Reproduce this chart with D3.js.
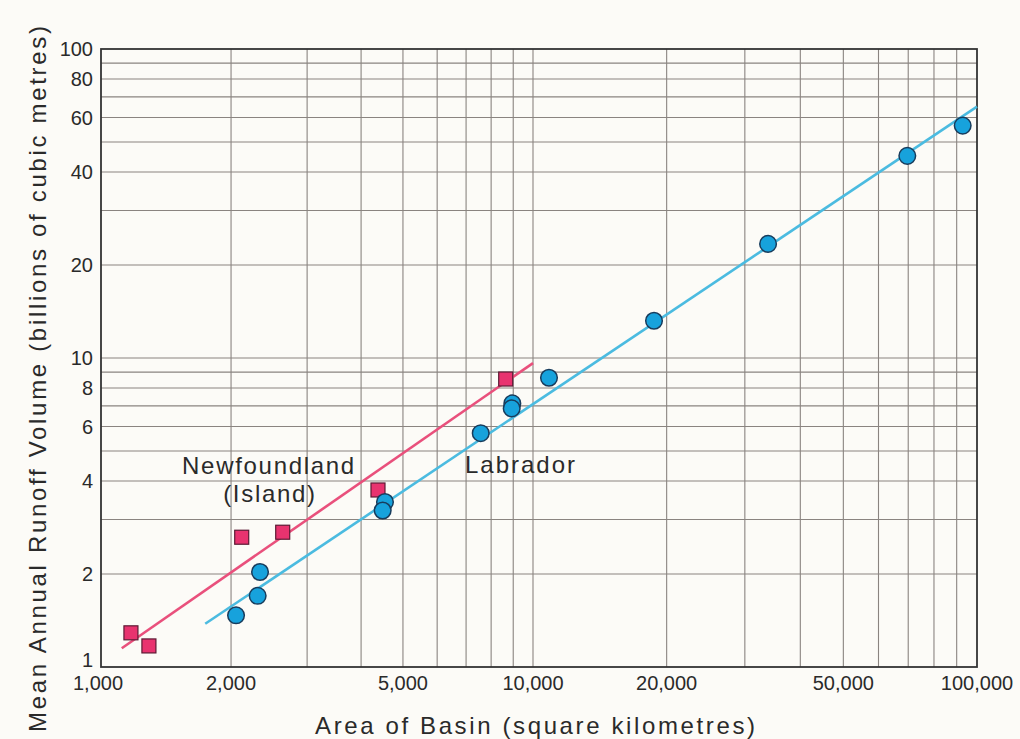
<!DOCTYPE html>
<html>
<head>
<meta charset="utf-8">
<script src="https://cdn.jsdelivr.net/npm/d3@7"></script>
<style>
  body { margin: 0; background: #fcfbf7; }
  svg { display: block; }
  text { font-family: "Liberation Sans", Arial, sans-serif; fill: #2a2a2a; }
</style>
</head>
<body>
<svg id="chart"></svg>
<script>
// Newfoundland (Island) basins: area (km2), runoff (billions m3)
var nfldArea = [1173, 1291, 2117, 2634, 4377, 8646];
var nfldRunoff = [1.29, 1.17, 2.63, 2.73, 3.74, 8.55];
// Labrador basins
var labArea = [2054, 2305, 2334, 4543, 4488, 7568, 8957, 8927, 10865, 18730, 33840, 69670, 92850];
var labRunoff = [1.47, 1.70, 2.03, 3.42, 3.21, 5.71, 7.13, 6.87, 8.63, 13.2, 23.4, 45.1, 56.5];
// fitted lines, [area, runoff] end points
var nfldFit = [[1117, 1.15], [10000, 9.63]];
var labFit = [[1743, 1.38], [100000, 65.1]];

var xTickValues = [1000, 2000, 5000, 10000, 20000, 50000, 100000];
var yTickValues = [1, 2, 4, 6, 8, 10, 20, 40, 60, 80, 100];

var config = {
  svgWidth: 1020,
  svgHeight: 739,
  left: 101,
  mid: 533, // the printed paper's 10,000 line sits a bit left of a true log position
  right: 977,
  top: 49,
  bottom: 667,
  gridColor: '#8a8480',
  blueLine: '#4bbbe0',
  blueFill: '#17a2dc',
  blueStroke: '#183c5c',
  pinkLine: '#e9507c',
  pinkFill: '#e8336f',
  pinkStroke: '#5c1a34',
  tickFontSize: 20,
  labelFontSize: 24,
  titleFontSize: 24,
};

var svg = d3.select('#chart')
  .attr('width', config.svgWidth)
  .attr('height', config.svgHeight);

var x = d3.scaleLog().domain([1000, 10000, 100000]).range([config.left, config.mid, config.right]);
var y = d3.scaleLog().domain([1, 100]).range([config.bottom, config.top]);

// minor grid on every 1..9 step of each decade
var xGrid = [];
for (var d = 1000; d < 100000; d *= 10) {
  for (var k = 2; k <= 9; k += 1) { xGrid.push(d * k); }
}
xGrid.push(10000);
var yGrid = [];
for (var d2 = 1; d2 < 100; d2 *= 10) {
  for (var k2 = 2; k2 <= 9; k2 += 1) { yGrid.push(d2 * k2); }
}
yGrid.push(10);

var g = svg.append('g');
g.selectAll('.vgrid').data(xGrid).enter().append('line')
  .attr('x1', function(v) { return x(v); })
  .attr('x2', function(v) { return x(v); })
  .attr('y1', config.top).attr('y2', config.bottom)
  .attr('stroke', config.gridColor).attr('stroke-width', 1.1);
g.selectAll('.hgrid').data(yGrid).enter().append('line')
  .attr('y1', function(v) { return y(v); })
  .attr('y2', function(v) { return y(v); })
  .attr('x1', config.left).attr('x2', config.right)
  .attr('stroke', config.gridColor).attr('stroke-width', 1.1);

// frame
g.append('rect')
  .attr('x', config.left).attr('y', config.top)
  .attr('width', config.right - config.left)
  .attr('height', config.bottom - config.top)
  .attr('fill', 'none').attr('stroke', '#333').attr('stroke-width', 1.8);

// tick labels
var fmt = d3.format(',');
g.selectAll('.xlab').data(xTickValues).enter().append('text')
  .attr('x', function(v) { return x(v) - (v === 1000 ? 3 : 0); })
  .attr('y', 690)
  .attr('text-anchor', 'middle')
  .attr('font-size', config.tickFontSize)
  .text(function(v) { return fmt(v); });
g.selectAll('.ylab').data(yTickValues).enter().append('text')
  .attr('x', 93)
  .attr('y', function(v) { return y(v) + (v === 1 ? -7 : 0); })
  .attr('dy', '0.36em')
  .attr('text-anchor', 'end')
  .attr('font-size', config.tickFontSize)
  .text(function(v) { return v; });

// axis titles
svg.append('text')
  .attr('x', 535).attr('y', 734)
  .attr('text-anchor', 'middle')
  .attr('font-size', config.titleFontSize)
  .attr('textLength', 440).attr('lengthAdjust', 'spacing')
  .text('Area of Basin (square kilometres)');
svg.append('text')
  .attr('transform', 'translate(46,379) rotate(-90)')
  .attr('text-anchor', 'middle')
  .attr('font-size', config.titleFontSize)
  .attr('textLength', 706).attr('lengthAdjust', 'spacing')
  .text('Mean Annual Runoff Volume (billions of cubic metres)');

// fit lines
var line = d3.line()
  .x(function(p) { return x(p[0]); })
  .y(function(p) { return y(p[1]); });
g.append('path').attr('d', line(labFit))
  .attr('stroke', config.blueLine).attr('stroke-width', 2.6).attr('fill', 'none');
g.append('path').attr('d', line(nfldFit))
  .attr('stroke', config.pinkLine).attr('stroke-width', 2.6).attr('fill', 'none');

// points
var sq = 14;
g.selectAll('.nfld').data(nfldArea).enter().append('rect')
  .attr('x', function(v) { return x(v) - sq / 2; })
  .attr('y', function(v, i) { return y(nfldRunoff[i]) - sq / 2; })
  .attr('width', sq).attr('height', sq)
  .attr('fill', config.pinkFill)
  .attr('stroke', config.pinkStroke).attr('stroke-width', 1.2);
g.selectAll('.lab').data(labArea).enter().append('circle')
  .attr('cx', function(v) { return x(v); })
  .attr('cy', function(v, i) { return y(labRunoff[i]); })
  .attr('r', 8.3)
  .attr('fill', config.blueFill)
  .attr('stroke', config.blueStroke).attr('stroke-width', 1.5);

// series labels
g.append('text')
  .attr('x', 269).attr('y', 474)
  .attr('text-anchor', 'middle')
  .attr('font-size', config.labelFontSize)
  .attr('letter-spacing', 1.7)
  .text('Newfoundland');
g.append('text')
  .attr('x', 270).attr('y', 502)
  .attr('text-anchor', 'middle')
  .attr('font-size', config.labelFontSize)
  .attr('letter-spacing', 1.7)
  .text('(Island)');
g.append('text')
  .attr('x', 521).attr('y', 473)
  .attr('text-anchor', 'middle')
  .attr('font-size', config.labelFontSize)
  .attr('letter-spacing', 2)
  .text('Labrador');
</script>
</body>
</html>
